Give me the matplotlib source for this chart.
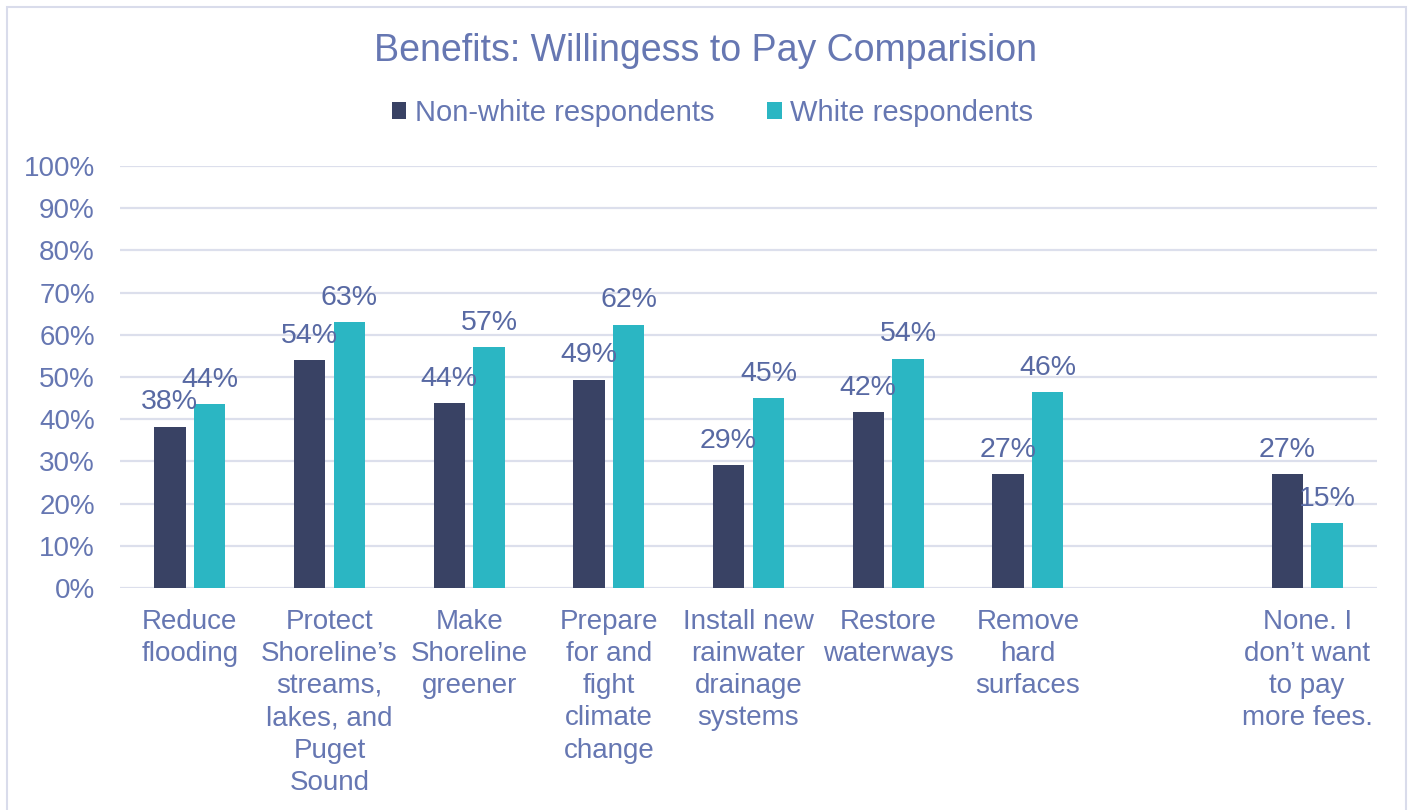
import matplotlib
matplotlib.use("Agg")
import matplotlib.pyplot as plt
from matplotlib.patches import Rectangle
import numpy as np

categories = [
    "Reduce\nflooding",
    "Protect\nShoreline\u2019s\nstreams,\nlakes, and\nPuget\nSound",
    "Make\nShoreline\ngreener",
    "Prepare\nfor and\nfight\nclimate\nchange",
    "Install new\nrainwater\ndrainage\nsystems",
    "Restore\nwaterways",
    "Remove\nhard\nsurfaces",
    "",
    "None. I\ndon\u2019t want\nto pay\nmore fees.",
]
non_white = [38.2, 54.0, 43.8, 49.4, 29.1, 41.7, 27.0, None, 27.0]
white = [43.6, 63.0, 57.1, 62.4, 45.0, 54.3, 46.4, None, 15.4]
y_ticks = [0, 10, 20, 30, 40, 50, 60, 70, 80, 90, 100]
series_names = ["Non-white respondents", "White respondents"]

NAVY = "#394264"
TEAL = "#2BB6C3"
TEXT = "#6677B2"
LABEL = "#5869A3"
GRID = "#DCDFEC"

plt.rcParams["font.family"] = ["Liberation Sans", "DejaVu Sans"]

fig = plt.figure(figsize=(14.11, 8.10), dpi=100)
ax = fig.add_axes([120 / 1411, 1 - 588 / 810, (1377 - 120) / 1411, (588 - 166) / 810])

x = np.arange(len(categories))
w = 0.224
off = 0.143

def draw(vals, shift, color, name):
    xs = [xi + shift for xi, v in zip(x, vals) if v is not None]
    vs = [v for v in vals if v is not None]
    bars = ax.bar(xs, vs, width=w, color=color, label=name, zorder=3)
    for xi, v in zip(xs, vs):
        ax.annotate(f"{round(v)}%", (xi, v), xytext=(0, 12.5), textcoords="offset points",
                    ha="center", va="baseline", fontsize=20.5, color=LABEL, zorder=4)
    return bars

b1 = draw(non_white, -off, NAVY, series_names[0])
b2 = draw(white, off, TEAL, series_names[1])

ax.set_xlim(-0.5, len(categories) - 0.5)
ax.set_ylim(0, 100)
ax.set_yticks(y_ticks)
ax.set_yticklabels([f"{t}%" for t in y_ticks])
ax.set_xticks(x)
ax.set_xticklabels(categories, linespacing=1.31)
ax.tick_params(axis="y", length=0, pad=18, labelsize=20, labelcolor=TEXT)
ax.tick_params(axis="x", length=0, pad=15, labelsize=20, labelcolor=TEXT)
ax.grid(axis="y", color=GRID, linewidth=1.6, zorder=0)
for s in ax.spines.values():
    s.set_visible(False)

fig.text(0.5, 1 - 61 / 810, "Benefits: Willingess to Pay Comparision", ha="center",
         va="baseline", fontsize=27, color=TEXT)

leg = fig.legend(handles=[b1, b2], loc="center", bbox_to_anchor=(0.505, 1 - 113 / 810),
                 ncol=2, frameon=False, fontsize=21, labelcolor=TEXT,
                 handlelength=0.5, handleheight=0.5, handletextpad=0.3,
                 columnspacing=1.8)

fig.patches.append(Rectangle((7 / 1411, -0.01), (1406 - 7) / 1411, 1 - 7 / 810 + 0.01,
                             transform=fig.transFigure, fill=False,
                             edgecolor="#D9DCEB", linewidth=1.5))

fig.savefig("out.png", dpi=100)
